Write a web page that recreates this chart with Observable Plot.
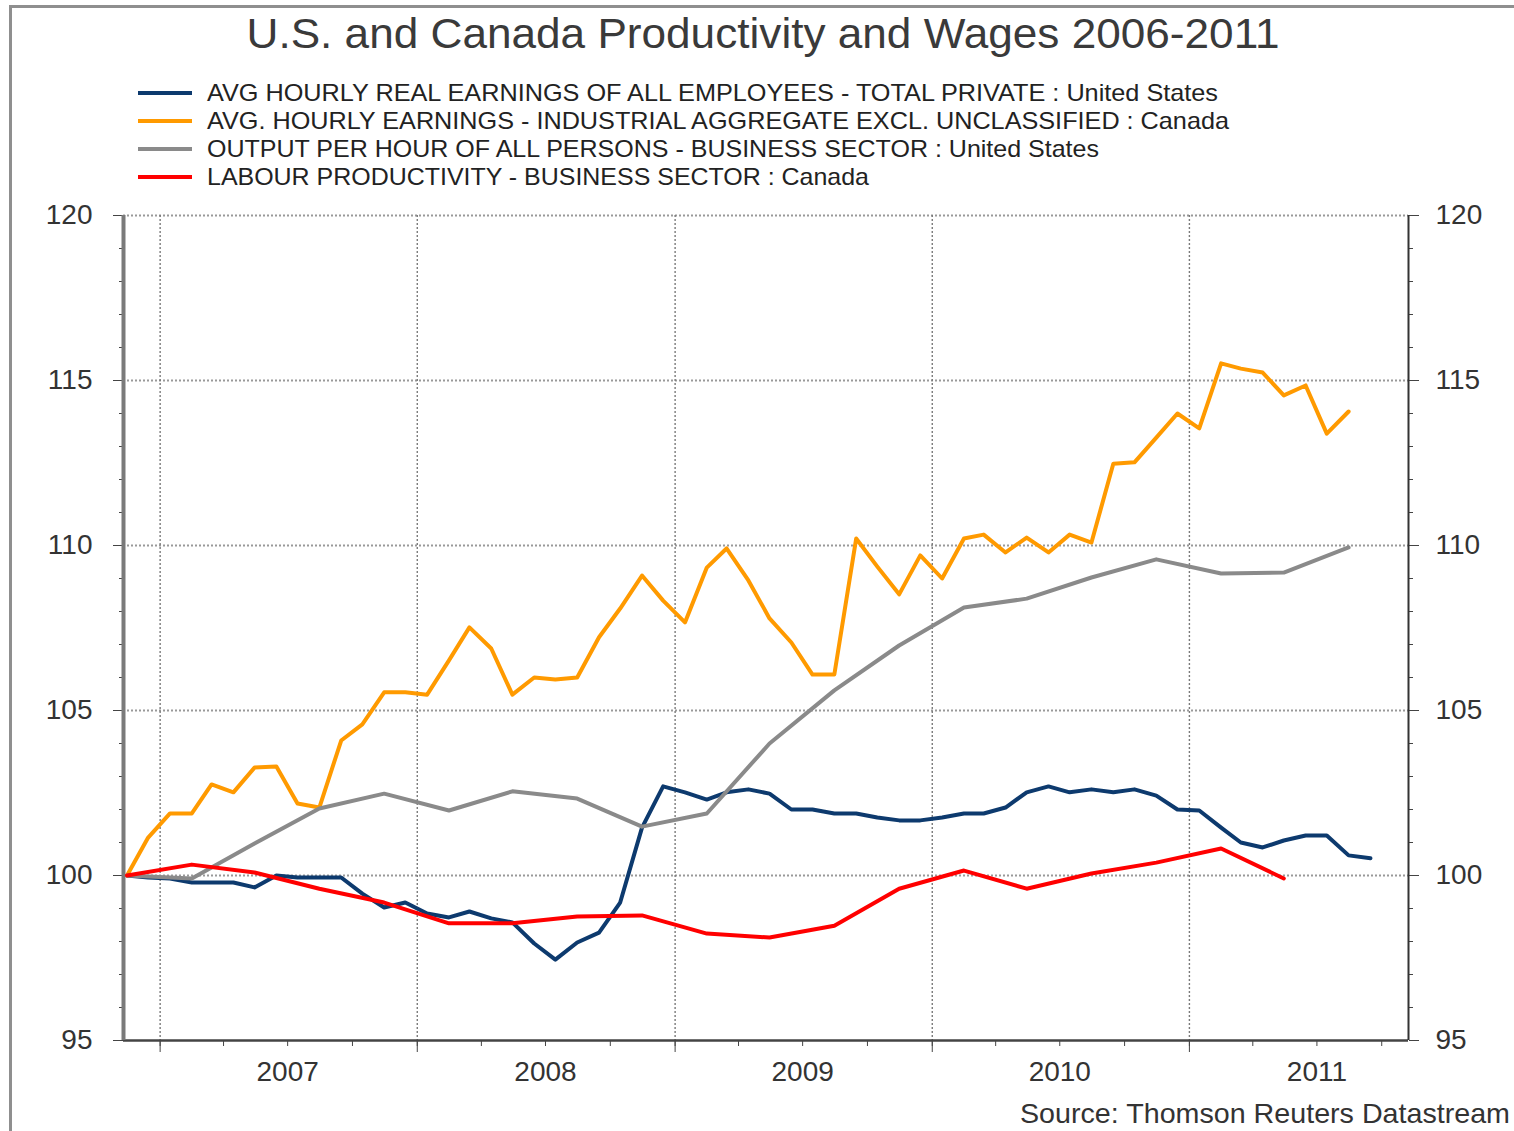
<!DOCTYPE html>
<html><head><meta charset="utf-8">
<script src="https://cdn.jsdelivr.net/npm/d3@7"></script>
<script src="https://cdn.jsdelivr.net/npm/@observablehq/plot@0.6"></script>
<style>
body{margin:0;background:#fff;}
#wrap{position:relative;width:1514px;height:1131px;overflow:hidden;background:#fff;font-family:"Liberation Sans",Arial,sans-serif;}
#chart{position:absolute;left:0;top:190px;}
#overlay{position:absolute;left:0;top:0;pointer-events:none;}
</style>
</head><body>
<div id="wrap"><div id="chart"></div>
<svg id="overlay" width="1514" height="1131"></svg></div>
<script>
// ---- data ----
const titleText = "U.S. and Canada Productivity and Wages 2006-2011";
const sourceText = "Source: Thomson Reuters Datastream";
const seriesNames = [
  "AVG HOURLY REAL EARNINGS OF ALL EMPLOYEES - TOTAL PRIVATE : United States",
  "AVG. HOURLY EARNINGS - INDUSTRIAL AGGREGATE EXCL. UNCLASSIFIED : Canada",
  "OUTPUT PER HOUR OF ALL PERSONS - BUSINESS SECTOR : United States",
  "LABOUR PRODUCTIVITY - BUSINESS SECTOR : Canada"
];
const seriesColors = ["#0d3a6e", "#ff9a00", "#8a8a8a", "#ff0000"];
const yMajorTicks = [95, 100, 105, 110, 115, 120];
const yearLabels = [2007, 2008, 2009, 2010, 2011];

// monthly, Nov 2006 .. Sep 2011
const usEarnings = [100, 99.94,
  99.91, 99.79, 99.79, 99.79, 99.64, 100.0, 99.94, 99.94, 99.94, 99.45, 99.03, 99.18,
  98.85, 98.73, 98.91, 98.70, 98.58, 97.94, 97.45, 97.97, 98.27, 99.18, 101.45, 102.70,
  102.52, 102.30, 102.52, 102.61, 102.48, 102.0, 102.0, 101.88, 101.88, 101.76, 101.67, 101.67,
  101.76, 101.88, 101.88, 102.06, 102.52, 102.70, 102.52, 102.61, 102.52, 102.61, 102.42, 102.0,
  101.97, 101.45, 101.0, 100.85, 101.06, 101.21, 101.21, 100.61, 100.52];
// monthly, Nov 2006 .. Aug 2011
const caEarnings = [100, 101.15,
  101.88, 101.88, 102.76, 102.52, 103.27, 103.30, 102.18, 102.06, 104.09, 104.58, 105.55, 105.55,
  105.48, 106.52, 107.52, 106.88, 105.48, 106.0, 105.94, 106.0, 107.22, 108.09, 109.09, 108.33,
  107.67, 109.33, 109.91, 108.94, 107.79, 107.06, 106.09, 106.09, 110.21, 109.36, 108.52, 109.70,
  109.0, 110.21, 110.33, 109.79, 110.24, 109.79, 110.33, 110.09, 112.48, 112.52, 113.27, 114.0,
  113.55, 115.52, 115.36, 115.24, 114.55, 114.85, 113.39, 114.06];
// quarterly, Q4 2006 .. Q3 2011
const usOutput = [100, 99.91, 100.97, 102.03, 102.48, 101.97, 102.55, 102.33, 101.48, 101.88,
  104.0, 105.61, 106.97, 108.12, 108.39, 109.03, 109.58, 109.15, 109.18, 109.94];
// quarterly, Q4 2006 .. Q2 2011
const caProductivity = [100, 100.33, 100.09, 99.6, 99.18, 98.55, 98.55, 98.76, 98.79, 98.24,
  98.12, 98.48, 99.6, 100.15, 99.6, 100.06, 100.39, 100.82, 99.91];

// ---- dates ----
const monthDates = d3.utcMonth.range(new Date(Date.UTC(2006,10,1)), new Date(Date.UTC(2011,9,1))).map(d => d3.utcDay.offset(d, 14));
const quarterDates = d3.utcMonth.range(new Date(Date.UTC(2006,10,1)), new Date(Date.UTC(2011,9,1)), 3).map(d => d3.utcDay.offset(d, 14));
const xStart = new Date(Date.UTC(2006,10,10)), xEnd = new Date(Date.UTC(2011,10,8));
const yearStarts = yearLabels.map(y => new Date(Date.UTC(y,0,1)));
const midYears = yearLabels.map(y => new Date(Date.UTC(y,6,1)));
const quarterTicks = d3.utcMonth.range(new Date(Date.UTC(2007,0,1)), xEnd, 3);

const toRows = (vals, dates) => vals.map((v, i) => ({date: dates[i], value: v}));
const series = [
  toRows(usEarnings, monthDates),
  toRows(caEarnings, monthDates),
  toRows(usOutput, quarterDates),
  toRows(caProductivity, quarterDates)
];
const drawOrder = [0, 1, 2, 3];

const plot = Plot.plot({
  width: 1514, height: 900,
  marginLeft: 123, marginRight: 106, marginTop: 25, marginBottom: 50,
  style: {fontFamily: '"Liberation Sans", Arial, sans-serif', fontSize: "28px", color: "#333", background: "transparent"},
  x: {type: "utc", domain: [xStart, xEnd], axis: null},
  y: {domain: [95, 120], axis: null},
  marks: [
    Plot.gridY([100, 105, 110, 115, 120], {stroke: "#999", strokeWidth: 2.2, strokeOpacity: 1, strokeDasharray: "2,2"}),
    Plot.gridX(yearStarts, {stroke: "#7a7a7a", strokeWidth: 1.4, strokeOpacity: 1, strokeDasharray: "2,2"}),
    // y axes
    Plot.axisY(d3.range(95, 121, 1), {anchor: "left", tickSize: 4, tickFormat: () => "", label: null, stroke: "#444"}),
    Plot.axisY(yMajorTicks, {anchor: "left", tickSize: 10, tickPadding: 21, label: null, stroke: "#444", tickFormat: d => String(d)}),
    Plot.axisY(d3.range(95, 121, 1), {anchor: "right", tickSize: 4, tickFormat: () => "", label: null, stroke: "#444"}),
    Plot.axisY(yMajorTicks, {anchor: "right", tickSize: 10, tickPadding: 17, label: null, stroke: "#444", tickFormat: d => String(d)}),
    // x axis
    Plot.axisX(quarterTicks, {tickSize: 6, tickFormat: () => "", label: null, stroke: "#444"}),
    Plot.axisX(yearStarts, {tickSize: 12, tickFormat: () => "", label: null, stroke: "#444"}),
    Plot.axisX(midYears, {tickSize: 0, tickPadding: 21, tickFormat: d3.utcFormat("%Y"), label: null}),
    Plot.ruleY([95], {stroke: "#444", strokeWidth: 2.5}),
    Plot.ruleX([xStart], {stroke: "#7a7a7a", strokeWidth: 4}),
    Plot.ruleX([xEnd], {stroke: "#333", strokeWidth: 2}),
    ...drawOrder.map(i => Plot.line(series[i], {x: "date", y: "value", stroke: seriesColors[i], strokeWidth: 4}))
  ]
});
document.getElementById("chart").appendChild(plot);

// ---- overlay: frame, title, legend, source ----
const ov = d3.select("#overlay");
ov.append("path").attr("d", "M10.5,1140 V6.5 H1530").attr("fill", "none").attr("stroke", "#8f8f8f").attr("stroke-width", 3);
ov.append("text").attr("x", 763).attr("y", 48).attr("text-anchor", "middle")
  .attr("font-family", '"Liberation Sans", Arial, sans-serif').attr("font-size", 42).attr("fill", "#3a3a3a")
  .attr("textLength", 1033).attr("lengthAdjust", "spacingAndGlyphs").text(titleText);
const legY = [93, 121, 149, 177];
const legW = [1011, 1022, 892, 662];
seriesNames.forEach((name, i) => {
  ov.append("line").attr("x1", 138).attr("x2", 192).attr("y1", legY[i]).attr("y2", legY[i])
    .attr("stroke", seriesColors[i]).attr("stroke-width", 4);
  ov.append("text").attr("x", 207).attr("y", legY[i] + 8)
    .attr("font-family", '"Liberation Sans", Arial, sans-serif').attr("font-size", 24).attr("fill", "#222")
    .attr("textLength", legW[i]).attr("lengthAdjust", "spacingAndGlyphs").text(name);
});
ov.append("text").attr("x", 1510).attr("y", 1123).attr("text-anchor", "end")
  .attr("font-family", '"Liberation Sans", Arial, sans-serif').attr("font-size", 28).attr("fill", "#333")
  .attr("textLength", 490).attr("lengthAdjust", "spacingAndGlyphs").text(sourceText);
</script>
</body></html>
